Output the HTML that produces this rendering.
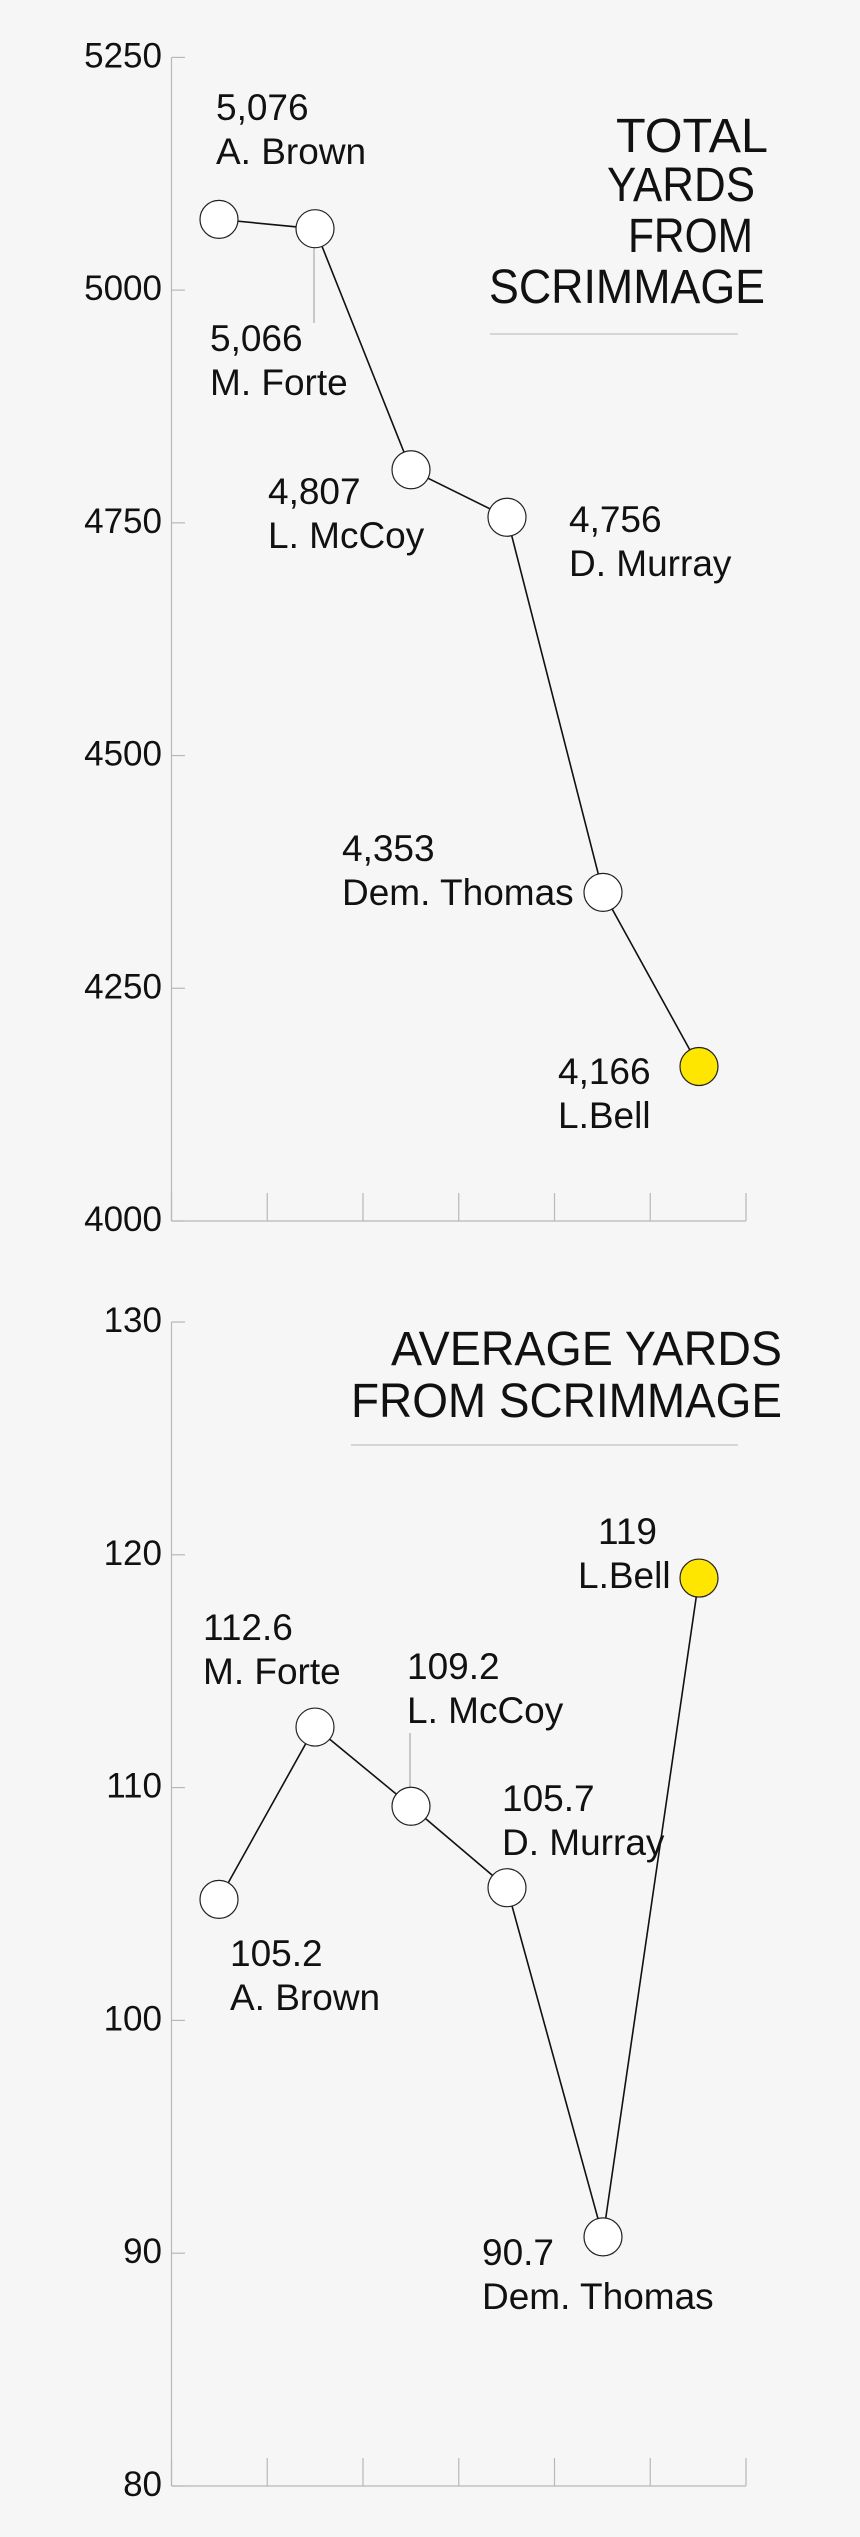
<!DOCTYPE html>
<html><head><meta charset="utf-8"><style>
html,body{margin:0;padding:0;background:#f6f6f6;}
svg{display:block;font-family:"Liberation Sans",sans-serif;}
</style></head><body>
<svg id="chart" width="860" height="2537" viewBox="0 0 860 2537" xmlns="http://www.w3.org/2000/svg">
<rect width="860" height="2537" fill="#f6f6f6"/>
<g id="c1"></g>
<g id="c2"></g>
</svg>
<script>
const players = ["A. Brown","M. Forte","L. McCoy","D. Murray","Dem. Thomas","L.Bell"];
const totalYards = [5076,5066,4807,4756,4353,4166];
const totalLabels = ["5,076","5,066","4,807","4,756","4,353","4,166"];
const avgYards = [105.2,112.6,109.2,105.7,90.7,119];
const avgLabels = ["105.2","112.6","109.2","105.7","90.7","119"];
const totalTicks = [4000,4250,4500,4750,5000,5250];
const avgTicks = [80,90,100,110,120,130];

const NS="http://www.w3.org/2000/svg";
function mk(parent,tag,attrs){const e=document.createElementNS(NS,tag);for(const k in attrs)e.setAttribute(k,attrs[k]);parent.appendChild(e);return e;}
const xLeft=171.5,xRight=746;
function xPos(i){return 219+i*96;}

function drawChart(g,cfg){
  const y=v=>cfg.top+(cfg.max-v)*(cfg.bottom-cfg.top)/(cfg.max-cfg.min);
  // axes
  const ya=mk(g,'line',{x1:xLeft,y1:y(cfg.max),x2:xLeft,y2:y(cfg.min),stroke:'#b8b8b8','stroke-width':1.2});
  
  
  const xa=mk(g,'line',{x1:xLeft,y1:y(cfg.min),x2:xRight,y2:y(cfg.min),stroke:'#b8b8b8','stroke-width':1.2});
  
  
  for(let i=0;i<7;i++){
    const xt=xLeft+i*(xRight-xLeft)/6;
    const t=mk(g,'line',{x1:xt,y1:y(cfg.min),x2:xt,y2:y(cfg.min)-28,stroke:'#b8b8b8','stroke-width':1.2});
    
    
  }
  cfg.ticks.forEach(v=>{
    const tl=mk(g,'line',{x1:xLeft,y1:y(v),x2:185,y2:y(v),stroke:'#b8b8b8','stroke-width':1.2});
    
    
    const tx=mk(g,'text',{x:162,y:y(v)+10,'text-anchor':'end','font-size':35,fill:'#111'});
    tx.textContent=String(v);
    
    
  });
  // title
  cfg.title.forEach(t=>{
    const tt=mk(g,'text',{x:t[1],y:t[2],textLength:t[3],lengthAdjust:'spacingAndGlyphs','font-size':48,fill:'#111'});
    tt.textContent=t[0];
    
    
  });
  const ul=mk(g,'line',{x1:cfg.ul[0],y1:cfg.ul[2],x2:cfg.ul[1],y2:cfg.ul[2],stroke:'#c4c4c4','stroke-width':1.2});
  
  
  // leader
  const li=cfg.leader;
  const ld=mk(g,'line',{x1:xPos(li[0])-1,y1:y(cfg.vals[li[0]]),x2:xPos(li[0])-1,y2:li[1],stroke:'#aaa','stroke-width':1.2});
  
  
  // line
  const pts=cfg.vals.map((v,i)=>xPos(i)+','+y(v)).join(' ');
  const pl=mk(g,'polyline',{points:pts,fill:'none',stroke:'#111','stroke-width':1.6});
  
  
  // re-draw leader above the line? original leader is under circle; keep.
  cfg.vals.forEach((v,i)=>{
    const c=mk(g,'circle',{cx:xPos(i),cy:y(v),r:19,fill:i===5?'#ffe600':'#fff',stroke:'#222','stroke-width':1.2});
    
    
    const lp=cfg.labelPos[i];
    const a=mk(g,'text',{x:lp[0],y:lp[1],'font-size':37,fill:'#111','text-anchor':lp[2]||'start'});
    a.textContent=cfg.labels[i];
    
    
    const b=mk(g,'text',{x:lp[3]!==undefined?lp[3]:lp[0],y:lp[1]+44,'font-size':37,fill:'#111','text-anchor':lp[2]||'start'});
    b.textContent=players[i];
    
    
  });
}

drawChart(document.getElementById('c1'),{
  top:57.4,bottom:1221,max:5250,min:4000,ticks:totalTicks,vals:totalYards,labels:totalLabels,
  title:[["TOTAL",616,152,152],["YARDS",607,201,148],["FROM",628,252,125],["SCRIMMAGE",489,303,276]],
  ul:[490,738,334],
  leader:[1,323],
  labelPos:[[216,120],[210,351],[268,504],[569,532],[342,861],[558,1084]]
});
drawChart(document.getElementById('c2'),{
  top:1322,bottom:2486,max:130,min:80,ticks:avgTicks,vals:avgYards,labels:avgLabels,
  title:[["AVERAGE YARDS",391,1365,391],["FROM SCRIMMAGE",351,1417,431]],
  ul:[351,738,1445],
  leader:[2,1733],
  labelPos:[[230,1966],[203,1640],[407,1679],[502,1811],[482,2265],[598,1544,'start',578]]
});
</script>
</body></html>
